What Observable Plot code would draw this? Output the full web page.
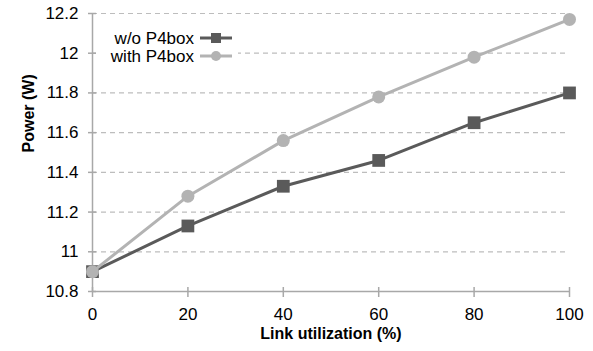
<!DOCTYPE html>
<html><head><meta charset="utf-8">
<script src="https://cdn.jsdelivr.net/npm/d3@7"></script>
<script src="https://cdn.jsdelivr.net/npm/@observablehq/plot@0.6"></script>
<style>
body{margin:0;background:#fff}
svg{font-family:"Liberation Sans",Arial,Helvetica,sans-serif}
</style>
</head><body><div id="chart"></div>
<script>
const utilization = [0, 20, 40, 60, 80, 100];
const withoutP4box = [10.9, 11.13, 11.33, 11.46, 11.65, 11.80];
const withP4box = [10.9, 11.28, 11.56, 11.78, 11.98, 12.17];
const seriesNames = ["w/o P4box", "with P4box"];
const xTicks = [0, 20, 40, 60, 80, 100];
const yTicks = [10.8, 11, 11.2, 11.4, 11.6, 11.8, 12, 12.2];
const xTitle = "Link utilization (%)";
const yTitle = "Power (W)";

const dark = "#5a5a5a", light = "#b3b3b3", axisGray = "#a8a8a8", gridGray = "#bdbdbd";
const rowsWithout = utilization.map((u, i) => ({u, p: withoutP4box[i]}));
const rowsWith = utilization.map((u, i) => ({u, p: withP4box[i]}));
const fmt = d => String(+d.toFixed(1));

const chart = Plot.plot({
  width: 593, height: 351,
  marginLeft: 92, marginRight: 24, marginTop: 13, marginBottom: 60,
  style: {fontSize: "17px", fontFamily: "'Liberation Sans', Arial, sans-serif", color: "#000", background: "#fff"},
  x: {domain: [0, 100]},
  y: {domain: [10.8, 12.2]},
  marks: [
    Plot.gridY(yTicks.slice(1), {stroke: gridGray, strokeOpacity: 1, strokeDasharray: "5,4", strokeWidth: 1.2}),
    Plot.ruleY([yTicks[0]], {stroke: axisGray, strokeWidth: 1.5}),
    Plot.ruleX([xTicks[0]], {stroke: axisGray, strokeWidth: 1.5}),
    Plot.axisY(yTicks, {tickSize: 8, dx: 4, tickPadding: 10, stroke: axisGray, strokeWidth: 1.5, tickFormat: fmt, label: null, fill: "#000"}),
    Plot.axisX(xTicks, {tickSize: 10, dy: -4, tickPadding: 10, stroke: axisGray, strokeWidth: 1.5, label: null, fill: "#000"}),
    Plot.text([xTitle], {frameAnchor: "bottom", dy: 47, text: d => d, fontWeight: "bold", fontSize: 16}),
    Plot.text([yTitle], {frameAnchor: "left", dx: -64, rotate: -90, text: d => d, fontWeight: "bold", fontSize: 16}),
    Plot.line(rowsWithout, {x: "u", y: "p", stroke: dark, strokeWidth: 3}),
    Plot.dot(rowsWithout, {x: "u", y: "p", symbol: "square", r: 7.2, fill: dark}),
    Plot.line(rowsWith, {x: "u", y: "p", stroke: light, strokeWidth: 3}),
    Plot.dot(rowsWith, {x: "u", y: "p", symbol: "circle", r: 6.5, fill: light})
  ]
});

// legend
const svg = d3.select(chart);
const lg = svg.append("g");
lg.append("rect").attr("x", 96).attr("y", 27).attr("width", 142).attr("height", 40).attr("fill", "#fff");
const entries = [
  {name: seriesNames[0], color: dark, sym: "square", cy: 38},
  {name: seriesNames[1], color: light, sym: "circle", cy: 56}
];
for (const e of entries) {
  lg.append("text").attr("x", 194).attr("y", e.cy).attr("dy", "0.35em").attr("text-anchor", "end")
    .attr("font-size", 17).attr("fill", "#000").text(e.name);
  lg.append("line").attr("x1", 200).attr("x2", 232).attr("y1", e.cy).attr("y2", e.cy)
    .attr("stroke", e.color).attr("stroke-width", 3);
  if (e.sym === "square") {
    lg.append("rect").attr("x", 211).attr("y", e.cy - 5).attr("width", 10).attr("height", 10).attr("fill", e.color);
  } else {
    lg.append("circle").attr("cx", 216).attr("cy", e.cy).attr("r", 5).attr("fill", e.color);
  }
}
document.getElementById("chart").appendChild(chart);
</script>
</body></html>
